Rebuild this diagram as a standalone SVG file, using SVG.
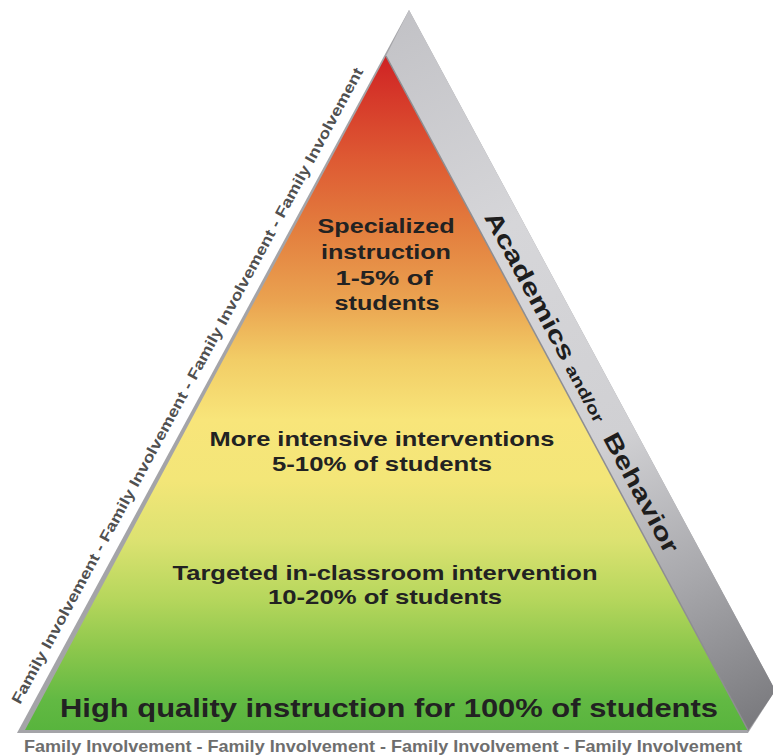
<svg xmlns="http://www.w3.org/2000/svg" width="773" height="756" viewBox="0 0 773 756">
  <style>
    .tier { font-family: "Liberation Sans", Arial, sans-serif; font-weight: bold; fill: #222; text-anchor: middle; }
    .fam { font-family: "Liberation Sans", Arial, sans-serif; font-weight: bold; }
    .side { font-family: "Liberation Sans", Arial, sans-serif; font-weight: bold; fill: #1e1e1e; }
  </style>
  <defs>
    <linearGradient id="pyr" gradientUnits="userSpaceOnUse" x1="0" y1="56" x2="0" y2="730">
      <stop offset="0" stop-color="#cf2224"/>
      <stop offset="0.065" stop-color="#d63a2a"/>
      <stop offset="0.154" stop-color="#de5a33"/>
      <stop offset="0.258" stop-color="#e37e3e"/>
      <stop offset="0.362" stop-color="#eaa250"/>
      <stop offset="0.451" stop-color="#f2cd66"/>
      <stop offset="0.54" stop-color="#f8e57a"/>
      <stop offset="0.629" stop-color="#f3e678"/>
      <stop offset="0.718" stop-color="#dce271"/>
      <stop offset="0.807" stop-color="#b5d65c"/>
      <stop offset="0.881" stop-color="#8cc74c"/>
      <stop offset="0.955" stop-color="#62b943"/>
      <stop offset="1" stop-color="#58b43d"/>
    </linearGradient>
    <linearGradient id="band" gradientUnits="userSpaceOnUse" x1="409" y1="10" x2="760" y2="720">
      <stop offset="0" stop-color="#c2c2c6"/>
      <stop offset="0.3" stop-color="#d6d6d9"/>
      <stop offset="0.6" stop-color="#d0d0d3"/>
      <stop offset="0.8" stop-color="#a8a8ac"/>
      <stop offset="1" stop-color="#7a7a7e"/>
    </linearGradient>
  </defs>

  <g id="frame">
    <polygon points="409,10 773,686 773,694 748,733 17,733" fill="#a4a4a8"/>
    <polygon points="409,10 773,686 773,694 748,731 386,56" fill="url(#band)"/>
  </g>

  <g id="pyramid">
    <polygon points="386,56 748,730 25,730" fill="url(#pyr)"/>
    <line x1="386" y1="56" x2="748" y2="730" stroke="#8e8e92" stroke-width="1.5"/>
  </g>

  <g id="tier-specialized">
    <text class="tier" font-size="20" x="386" y="233" textLength="137" lengthAdjust="spacingAndGlyphs">Specialized</text>
    <text class="tier" font-size="20" x="386" y="259" textLength="130" lengthAdjust="spacingAndGlyphs">instruction</text>
    <text class="tier" font-size="20" x="384" y="285" textLength="97" lengthAdjust="spacingAndGlyphs">1-5% of</text>
    <text class="tier" font-size="20" x="387" y="310" textLength="105" lengthAdjust="spacingAndGlyphs">students</text>
  </g>

  <g id="tier-intensive">
    <text class="tier" font-size="21" x="382" y="446" textLength="345" lengthAdjust="spacingAndGlyphs">More intensive interventions</text>
    <text class="tier" font-size="21" x="382" y="471" textLength="220" lengthAdjust="spacingAndGlyphs">5-10% of students</text>
  </g>

  <g id="tier-targeted">
    <text class="tier" font-size="21" x="385" y="580" textLength="425" lengthAdjust="spacingAndGlyphs">Targeted in-classroom intervention</text>
    <text class="tier" font-size="21" x="385" y="604" textLength="234" lengthAdjust="spacingAndGlyphs">10-20% of students</text>
  </g>

  <g id="tier-universal">
    <text class="tier" font-size="26" x="389" y="717" textLength="658" lengthAdjust="spacingAndGlyphs" fill="#1a1a1a">High quality instruction for 100% of students</text>
  </g>

  <g id="side-label">
    <text class="side" font-size="24" transform="translate(483.8,216.9) rotate(61.76)" textLength="165" lengthAdjust="spacingAndGlyphs">Academics</text>
    <text class="side" font-size="16" transform="translate(565.1,368.5) rotate(61.76)" textLength="63" lengthAdjust="spacingAndGlyphs">and/or</text>
    <text class="side" font-size="24" transform="translate(602.5,438.1) rotate(61.76)" textLength="133" lengthAdjust="spacingAndGlyphs">Behavior</text>
  </g>

  <g id="family-left">
    <text class="fam" font-size="15" fill="#505050" transform="translate(20,705) rotate(-61.53)" textLength="721" lengthAdjust="spacingAndGlyphs">Family Involvement - Family Involvement - Family Involvement - Family Involvement</text>
  </g>

  <g id="family-bottom">
    <text class="fam" font-size="16.5" fill="#6e6e6e" x="24" y="752" textLength="718" lengthAdjust="spacingAndGlyphs">Family Involvement - Family Involvement - Family Involvement - Family Involvement</text>
  </g>
</svg>
